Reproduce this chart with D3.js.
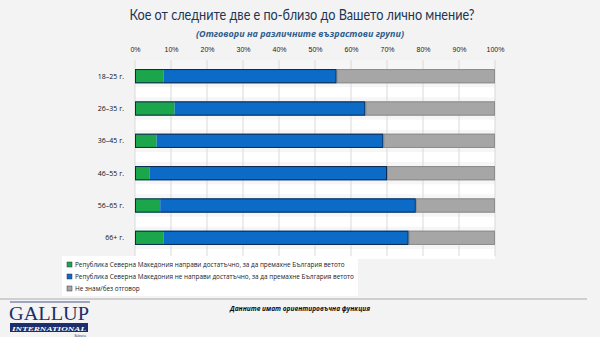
<!DOCTYPE html>
<html>
<head>
<meta charset="utf-8">
<script src="https://cdn.jsdelivr.net/npm/d3@7"></script>
<style>
  html, body { margin: 0; padding: 0; background: #f3f3f3; }
  svg { display: block; font-family: "Open Sans", "Noto Sans", sans-serif; }
</style>
</head>
<body>
<svg id="chart" width="600" height="337"></svg>
<script>
// Age groups and answer shares (%)
const categories = ["18–25 г.", "26–35 г.", "36–45 г.", "46–55 г.", "56–65 г.", "66+ г."];
const didEnough = [8, 11, 6, 4, 7, 8];
const notEnough = [48, 53, 63, 66, 71, 68];
const dontKnow = [44, 36, 31, 30, 22, 24];
const tickValues = [0, 10, 20, 30, 40, 50, 60, 70, 80, 90, 100];
const seriesNames = [
  "Република Северна Македония направи достатъчно, за да премахне България ветото",
  "Република Северна Македония не направи достатъчно, за да премахне България ветото",
  "Не знам/без отговор"
];
const seriesColors = ["#1ca64b", "#0b6bc6", "#a6a6a6"];

const svg = d3.select("#chart");

// Title block
svg.append("text").attr("x", 302).attr("y", 20).attr("text-anchor", "middle")
  .attr("font-family", "Lato, 'Open Sans', sans-serif")
  .attr("font-size", 16).attr("fill", "#1c3553")
  .attr("textLength", 345).attr("lengthAdjust", "spacingAndGlyphs")
  .text("Кое от следните две е по-близо до Вашето лично мнение?");
svg.append("text").attr("x", 300).attr("y", 37).attr("text-anchor", "middle")
  .attr("font-size", 9).attr("font-style", "italic").attr("font-weight", "bold")
  .attr("fill", "#2f5d8c")
  .text("(Отговори на различните възрастови групи)");

const x = d3.scaleLinear().domain([0, 100]).range([135, 495]);
const y = d3.scaleBand().domain(categories).range([60, 254]).paddingInner(0.56).paddingOuter(0.28);

// Plot background with white bands between bars
const plot = svg.append("g");
plot.append("rect").attr("x", x(0)).attr("y", 60).attr("width", x(100) - x(0)).attr("height", 196)
  .attr("fill", "#f6f6f6");
plot.selectAll("rect.band").data(categories).join("rect").attr("class", "band")
  .attr("x", x(0)).attr("width", x(100) - x(0))
  .attr("y", d => y(d) + y.bandwidth() + 4).attr("height", y.step() - y.bandwidth() - 8)
  .attr("fill", "#ffffff");

// Top axis with vertical gridlines
const axis = svg.append("g").attr("transform", `translate(0,${60})`)
  .call(d3.axisTop(x).tickValues(tickValues).tickFormat(d => d + "%").tickSize(0).tickPadding(8));
axis.select(".domain").remove();
axis.selectAll("text").attr("font-size", 7).attr("fill", "#222");

svg.append("g").selectAll("line").data(tickValues).join("line")
  .attr("x1", d => x(d)).attr("x2", d => x(d)).attr("y1", 60).attr("y2", 256)
  .attr("stroke", "#d9d9d9").attr("stroke-width", 1);

// Category labels
svg.append("g").selectAll("text").data(categories).join("text")
  .attr("x", 124).attr("y", d => y(d) + y.bandwidth() / 2).attr("dy", "0.35em")
  .attr("text-anchor", "end").attr("font-size", 7).attr("fill", "#111").text(d => d);

// Stacked bars
const rows = categories.map((c, i) => ({ cat: c, vals: [didEnough[i], notEnough[i], dontKnow[i]] }));
const bars = svg.append("g");
rows.forEach(r => {
  let acc = 0;
  r.vals.forEach((v, j) => {
    bars.append("rect")
      .attr("x", x(acc)).attr("y", y(r.cat))
      .attr("width", x(acc + v) - x(acc)).attr("height", y.bandwidth())
      .attr("fill", seriesColors[j]);
    acc += v;
  });
  // dark outline on the coloured part of the bar
  bars.append("rect")
    .attr("x", x(0) + 0.5).attr("y", y(r.cat) + 0.5)
    .attr("width", x(r.vals[0] + r.vals[1]) - x(0) - 1).attr("height", y.bandwidth() - 1)
    .attr("fill", "none").attr("stroke", "#0d2a52").attr("stroke-width", 1);
  bars.append("rect")
    .attr("x", x(r.vals[0] + r.vals[1]) + 0.5).attr("y", y(r.cat) + 0.5)
    .attr("width", x(100) - x(r.vals[0] + r.vals[1]) - 1).attr("height", y.bandwidth() - 1)
    .attr("fill", "none").attr("stroke", "#8c8c8c").attr("stroke-width", 1);
});

// Legend
const legend = svg.append("g");
legend.append("rect").attr("x", 62).attr("y", 256).attr("width", 296).attr("height", 40).attr("fill", "#ffffff");
seriesNames.forEach((n, i) => {
  const ly = 265 + i * 12;
  legend.append("rect").attr("x", 67).attr("y", ly - 3).attr("width", 5).attr("height", 5)
    .attr("fill", seriesColors[i]).attr("stroke", "#334").attr("stroke-width", 0.5);
  legend.append("text").attr("x", 75).attr("y", ly).attr("dy", "0.35em")
    .attr("font-size", 6.4).attr("fill", "#222").text(n);
});

// Footer separator
svg.append("rect").attr("x", 0).attr("y", 298).attr("width", 587).attr("height", 2).attr("fill", "#cfcfcf");

// Footer note
svg.append("text").attr("x", 300).attr("y", 311).attr("text-anchor", "middle")
  .attr("font-size", 6.6).attr("font-style", "italic").attr("font-weight", "bold").attr("fill", "#111")
  .text("Данните имат ориентировъчна функция");

// Logo
const logo = svg.append("g");
logo.append("line").attr("x1", 10).attr("x2", 90).attr("y1", 302).attr("y2", 302)
  .attr("stroke", "#1c2e6b").attr("stroke-width", 0.8);
logo.append("text").attr("x", 49).attr("y", 320).attr("text-anchor", "middle")
  .attr("font-family", "'Liberation Serif', serif").attr("font-size", 19).attr("fill", "#1c2e6b")
  .attr("textLength", 80).attr("lengthAdjust", "spacingAndGlyphs").text("GALLUP");
logo.append("rect").attr("x", 10).attr("y", 323).attr("width", 78).attr("height", 9).attr("fill", "#1c2e6b");
logo.append("text").attr("x", 49).attr("y", 331).attr("text-anchor", "middle")
  .attr("font-family", "'Liberation Serif', serif").attr("font-size", 7).attr("font-weight", "bold")
  .attr("font-style", "italic").attr("fill", "#ffffff")
  .attr("textLength", 74).attr("lengthAdjust", "spacingAndGlyphs").text("INTERNATIONAL");
logo.append("text").attr("x", 86).attr("y", 336.5).attr("text-anchor", "end")
  .attr("font-size", 3).attr("fill", "#1c2e6b").text("Bulgaria");
</script>
</body>
</html>
